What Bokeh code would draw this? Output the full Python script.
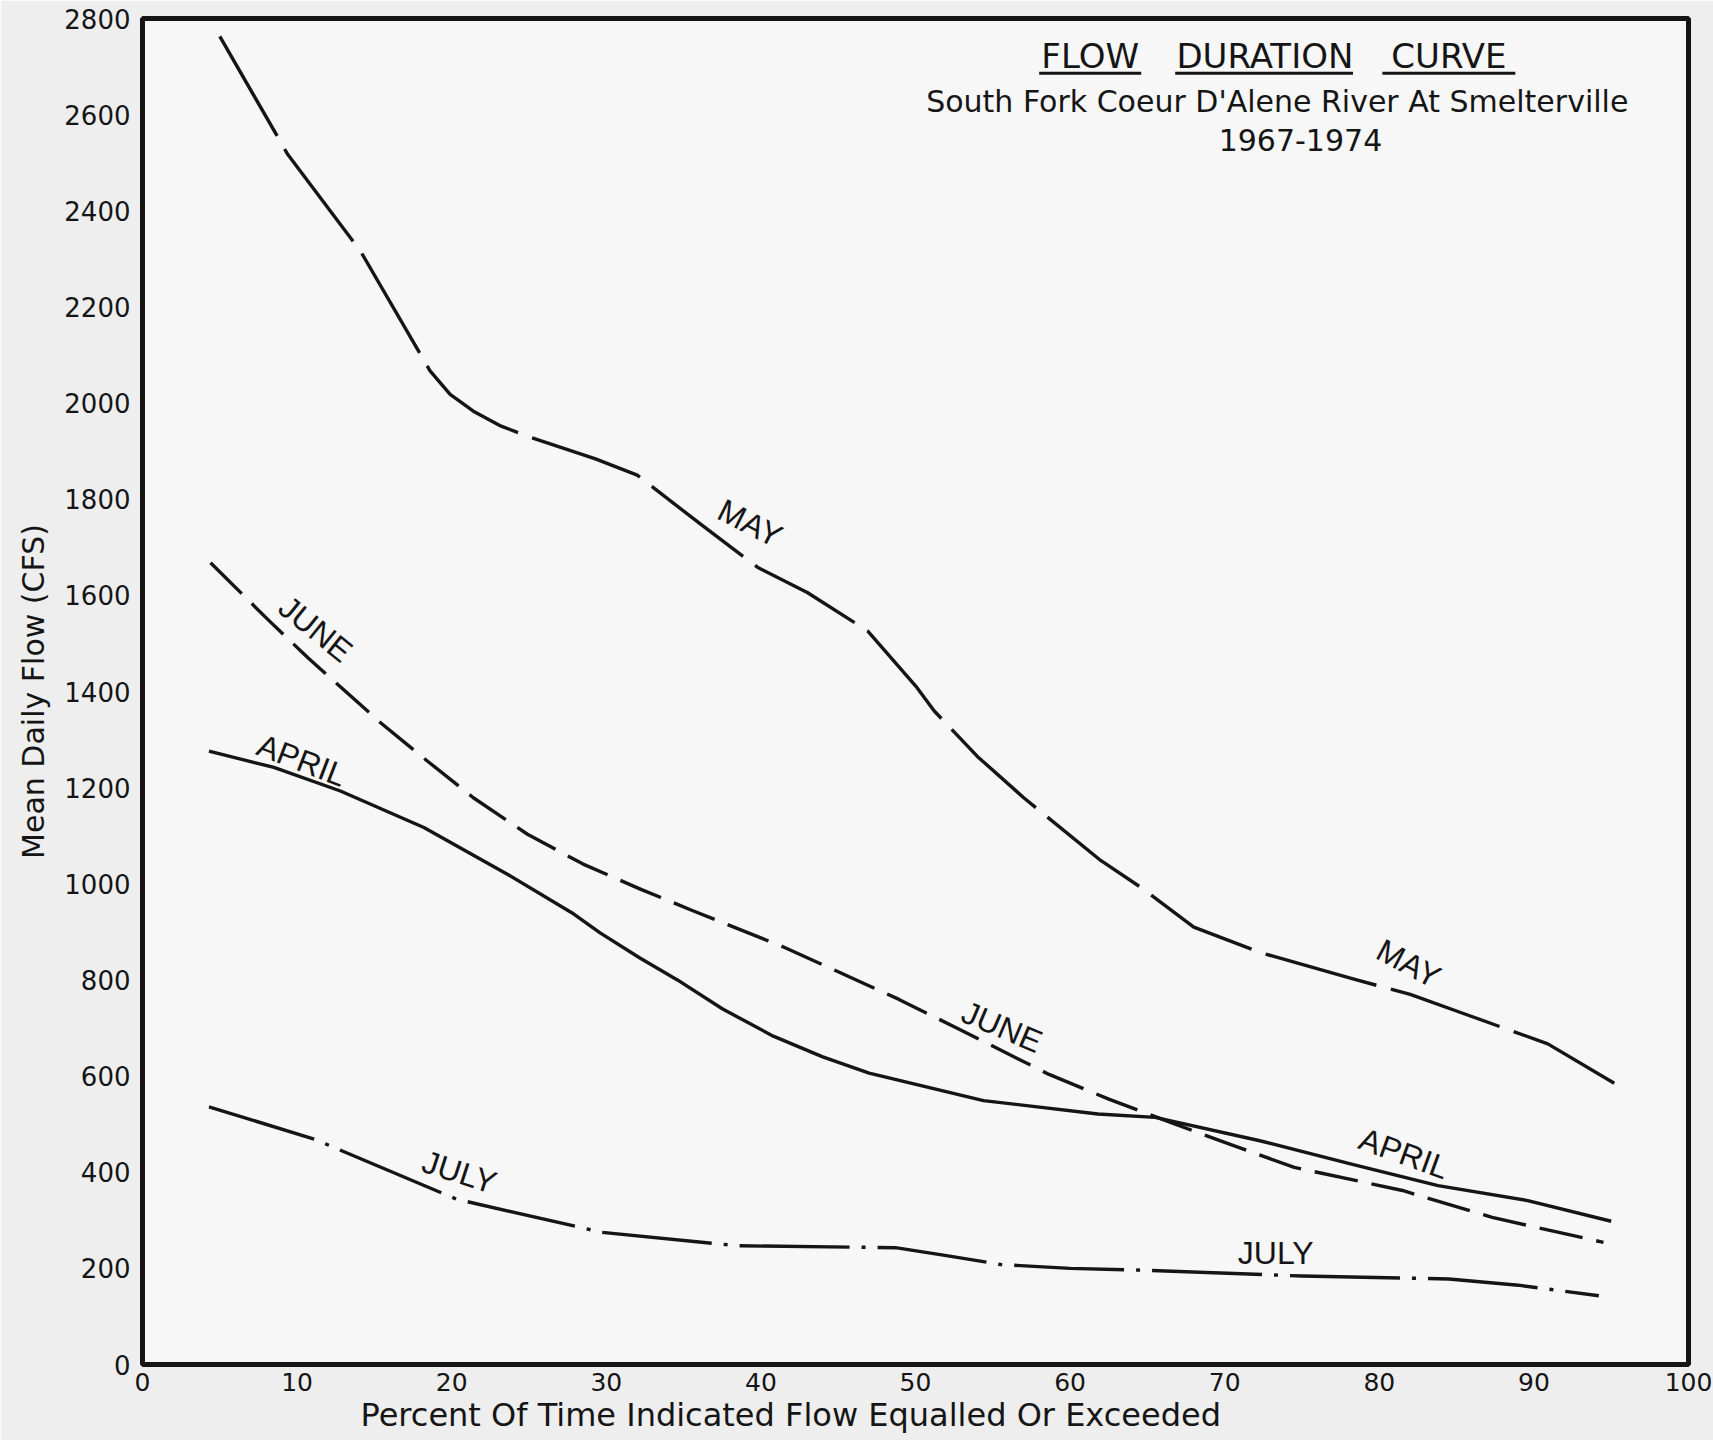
from bokeh.plotting import figure
from bokeh.models import Range1d, FixedTicker, Label, ColumnDataSource, Title
from bokeh.embed import file_html
from bokeh.resources import INLINE

# ---- data (percent of time vs mean daily flow, cfs) ----
may_x = [5.0, 9.4, 14.1, 18.6, 19.9, 21.4, 23.2, 24.9, 29.3, 32.0, 36.1, 39.8, 43.0, 46.9, 50.1, 51.2, 54.0, 57.0, 62.0, 64.6, 68.0, 72.3, 78.3, 82.0, 85.8, 90.9, 95.2]
may_y = [2763, 2517, 2316, 2067, 2018, 1983, 1952, 1931, 1884, 1850, 1748, 1658, 1606, 1526, 1408, 1360, 1265, 1179, 1048, 992, 910, 857, 802, 770, 726, 667, 585]

june_x = [4.4, 8.1, 10.7, 15.4, 18.4, 21.4, 24.9, 28.5, 32.2, 35.6, 41.5, 48.9, 52.6, 58.6, 62.5, 66.8, 70.0, 74.5, 81.5, 87.3, 94.5]
june_y = [1668, 1550, 1470, 1335, 1256, 1179, 1103, 1041, 989, 944, 868, 760, 701, 604, 552, 500, 462, 410, 362, 306, 254]

april_x = [4.3, 8.5, 12.8, 18.2, 23.6, 27.9, 29.6, 32.2, 34.6, 37.5, 40.8, 44.0, 47.0, 54.4, 61.8, 65.5, 72.2, 78.2, 83.8, 89.6, 95.0]
april_y = [1276, 1242, 1193, 1117, 1020, 937, 898, 845, 800, 740, 683, 640, 606, 549, 521, 514, 466, 417, 372, 341, 298]

july_x = [4.3, 11.1, 20.3, 29.7, 38.5, 48.7, 51.9, 55.5, 60.0, 65.0, 75.0, 84.5, 89.0, 94.2]
july_y = [536, 469, 344, 275, 247, 243, 227, 208, 200, 196, 184, 178, 165, 143]

x_ticks = [0, 10, 20, 30, 40, 50, 60, 70, 80, 90, 100]
y_ticks = [0, 200, 400, 600, 800, 1000, 1200, 1400, 1600, 1800, 2000, 2200, 2400, 2600, 2800]

# curve labels: text, x, y, angle (deg)
curve_labels = [
    ("MAY", 39.3, 1750, -27),
    ("MAY", 81.9, 834, -28),
    ("JUNE", 11.2, 1530, -39),
    ("JUNE", 55.6, 702, -23),
    ("APRIL", 10.3, 1257, -21),
    ("APRIL", 81.6, 439, -20),
    ("JULY", 20.5, 400, -18),
    ("JULY", 73.3, 232, 0),
]

title_words = ["FLOW", "DURATION", "CURVE"]
title_word_x = [61.3, 72.6, 84.5]
title_underline_x0 = [58.0, 66.8, 80.2]
title_underline_x1 = [64.6, 78.3, 88.8]
subtitle = "South Fork Coeur D'Alene River At Smelterville"
years = "1967-1974"
x_title = "Percent Of Time Indicated Flow Equalled Or Exceeded"
y_title = "Mean Daily Flow (CFS)"

INK = "#151515"
FONT = "DejaVu Sans"
LFONT = "Liberation Sans"

p = figure(width=1713, height=1440, x_range=Range1d(0, 100), y_range=Range1d(0, 2800),
           output_backend="svg", toolbar_location=None, tools="",
           min_border_left=142, min_border_right=25, min_border_top=18, min_border_bottom=76)
p.background_fill_color = "#f7f7f7"
p.border_fill_color = "#eeeeee"
p.outline_line_color = INK
p.outline_line_width = 5
p.grid.visible = False

p.xaxis.ticker = FixedTicker(ticks=x_ticks)
p.yaxis.ticker = FixedTicker(ticks=y_ticks)
for ax in (p.xaxis[0], p.yaxis[0]):
    ax.axis_line_color = None
    ax.major_tick_line_color = None
    ax.minor_tick_line_color = None
    ax.major_tick_out = 0
    ax.major_tick_in = 0
    ax.major_label_text_font = FONT
    ax.major_label_text_color = INK
p.yaxis.major_label_text_font_size = "26px"
p.xaxis.major_label_text_font_size = "25px"
p.yaxis.major_label_standoff = 12
p.xaxis.major_label_standoff = 8
p.yaxis.axis_label = y_title
p.yaxis.axis_label_text_font = FONT
p.yaxis.axis_label_text_font_size = "30px"
p.yaxis.axis_label_text_font_style = "normal"
p.yaxis.axis_label_text_color = INK
p.yaxis.axis_label_standoff = 10

p.add_layout(Title(text=x_title, align="left", offset=218, standoff=0,
                   text_font=FONT, text_font_size="32px", text_font_style="normal",
                   text_color=INK), "below")

src_may = ColumnDataSource(dict(x=may_x, y=may_y))
src_june = ColumnDataSource(dict(x=june_x, y=june_y))
src_april = ColumnDataSource(dict(x=april_x, y=april_y))
src_july = ColumnDataSource(dict(x=july_x, y=july_y))

p.line("x", "y", source=src_may, line_color=INK, line_width=3.4, line_dash="115 15", line_join="round")
p.line("x", "y", source=src_june, line_color=INK, line_width=3.4, line_dash="44 14", line_join="round")
p.line("x", "y", source=src_april, line_color=INK, line_width=3.4, line_join="round")
p.line("x", "y", source=src_july, line_color=INK, line_width=3.4, line_dash="110 12 4 12", line_join="round")

for txt, lx, ly, ang in curve_labels:
    p.add_layout(Label(x=lx, y=ly, text=txt, angle=ang, angle_units="deg",
                       text_align="center", text_baseline="middle",
                       text_font=LFONT, text_font_size="32px", text_color=INK))

for w, wx in zip(title_words, title_word_x):
    p.add_layout(Label(x=wx, y=2721, text=w, text_align="center", text_baseline="middle",
                       text_font=FONT, text_font_size="34px", text_color=INK))
p.segment(x0=title_underline_x0, y0=[2686] * 3, x1=title_underline_x1, y1=[2686] * 3,
          line_color=INK, line_width=3)
p.add_layout(Label(x=73.4, y=2628, text=subtitle, text_align="center", text_baseline="middle",
                   text_font=FONT, text_font_size="30px", text_color=INK))
p.add_layout(Label(x=74.9, y=2547, text=years, text_align="center", text_baseline="middle",
                   text_font=FONT, text_font_size="30px", text_color=INK))

open("out.html", "w").write(file_html(p, INLINE))
